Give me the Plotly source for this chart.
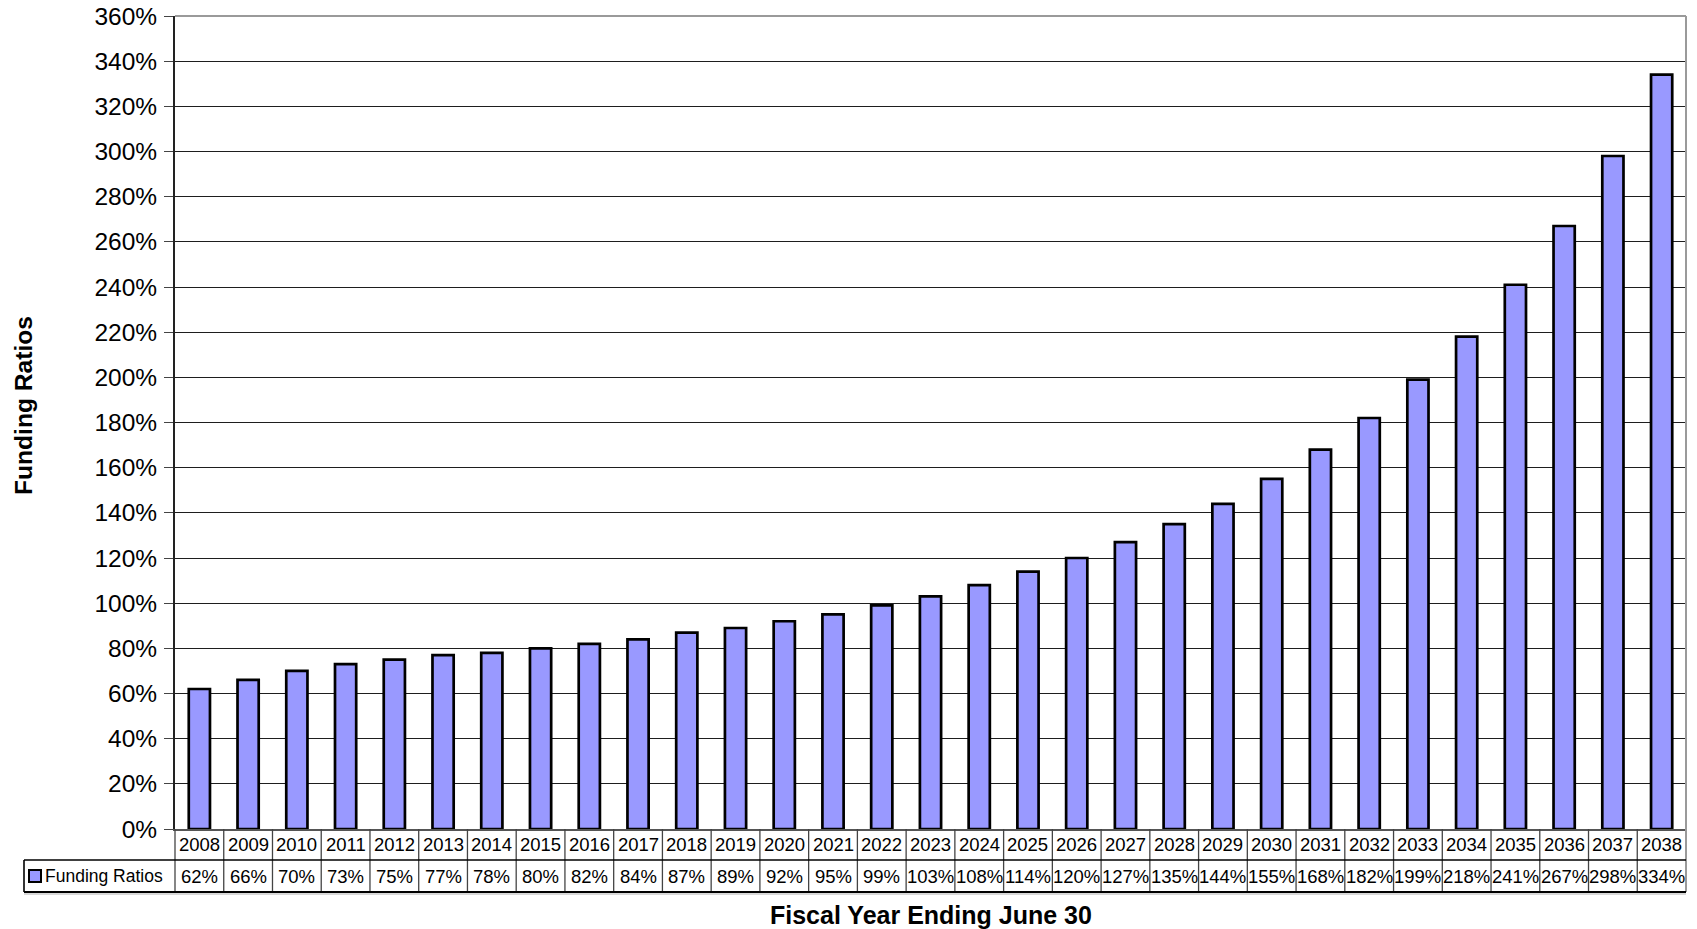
import plotly.graph_objects as go

years = [str(y) for y in range(2008, 2039)]
funding_ratios = [62, 66, 70, 73, 75, 77, 78, 80, 82, 84, 87, 89, 92, 95, 99,
                  103, 108, 114, 120, 127, 135, 144, 155, 168, 182, 199, 218,
                  241, 267, 298, 334]
y_ticks = list(range(0, 361, 20))
y_tick_labels = [f"{v}%" for v in y_ticks]
series_name = "Funding Ratios"

FONT = "Liberation Sans, Arial, sans-serif"
BAR_FILL = "#9999FF"

# plot-area geometry in pixels (used to place the data table under the axis)
W, H = 1697, 929
L, R, T, B = 175, 11, 16, 100
PW, PH = W - L - R, H - T - B
n = len(years)


def px_x(px):
    return (px - L) / PW


def px_y(py):
    return (H - B - py) / PH


fig = go.Figure()
fig.add_trace(go.Bar(
    x=years, y=funding_ratios, name=series_name,
    marker=dict(color=BAR_FILL, line=dict(color="#000000", width=2.7)),
    showlegend=False, hoverinfo="x+y",
))

shapes = []
annotations = []

row1_top, row1_bot, row2_bot = H - B, 860, 892
legend_left = 24

# column separators of the data table
for k in range(n + 1):
    xp = k / n
    y_top = row1_top if k < n else T
    shapes.append(dict(type="line", xref="paper", yref="paper",
                       x0=xp, x1=xp, y0=px_y(y_top), y1=px_y(row2_bot),
                       line=dict(color="#9a9a9a" if k == n else "#444444",
                                 width=2 if k == n else 1.3)))
# horizontal rules of the table
for py, w in [(row1_bot, 1.6), (row2_bot, 2)]:
    shapes.append(dict(type="line", xref="paper", yref="paper",
                       x0=px_x(legend_left), x1=1, y0=px_y(py), y1=px_y(py),
                       line=dict(color="#000000", width=w)))
# faint shadow under the table
shapes.append(dict(type="line", xref="paper", yref="paper",
                   x0=px_x(legend_left), x1=1, y0=px_y(row2_bot + 2), y1=px_y(row2_bot + 2),
                   line=dict(color="#d8d8d8", width=2)))
# left edge of the legend cell
shapes.append(dict(type="line", xref="paper", yref="paper",
                   x0=px_x(legend_left), x1=px_x(legend_left),
                   y0=px_y(row1_bot), y1=px_y(row2_bot),
                   line=dict(color="#000000", width=1.6)))
# top border of the plot area
shapes.append(dict(type="line", xref="paper", yref="paper",
                   x0=0, x1=1, y0=1, y1=1,
                   line=dict(color="#9a9a9a", width=2)))
# legend key
shapes.append(dict(type="rect", xref="paper", yref="paper",
                   x0=px_x(29), x1=px_x(41), y0=px_y(870), y1=px_y(882),
                   fillcolor=BAR_FILL, line=dict(color="#000000", width=2)))

row1_mid = px_y((row1_top + row1_bot) / 2)
row2_mid = px_y((row1_bot + row2_bot) / 2)
for i, (yr, v) in enumerate(zip(years, funding_ratios)):
    xc = (i + 0.5) / n  # centre of category i on the x axis
    annotations.append(dict(x=xc, xref="paper", y=row1_mid, yref="paper", text=yr,
                            showarrow=False, xanchor="center", yanchor="middle",
                            font=dict(family=FONT, size=18.5, color="#000")))
    annotations.append(dict(x=xc, xref="paper", y=row2_mid, yref="paper", text=f"{v}%",
                            showarrow=False, xanchor="center", yanchor="middle",
                            font=dict(family=FONT, size=18.5, color="#000")))

annotations.append(dict(x=px_x(43), xref="paper", y=row2_mid, yref="paper",
                        text=series_name, showarrow=False, xanchor="left",
                        yanchor="middle", font=dict(family=FONT, size=17.5, color="#000")))

# axis titles
annotations.append(dict(x=px_x(23), xref="paper", y=px_y(406), yref="paper",
                        text="<b>Funding Ratios</b>", textangle=-90, showarrow=False,
                        xanchor="center", yanchor="middle",
                        font=dict(family=FONT, size=24.6, color="#000")))
annotations.append(dict(x=px_x(931), xref="paper", y=px_y(915), yref="paper",
                        text="<b>Fiscal Year Ending June 30</b>", showarrow=False,
                        xanchor="center", yanchor="middle",
                        font=dict(family=FONT, size=25, color="#000")))

fig.update_layout(
    width=W, height=H,
    margin=dict(l=L, r=R, t=T, b=B, pad=0, autoexpand=False),
    paper_bgcolor="#ffffff", plot_bgcolor="#ffffff",
    bargap=0.565,
    font=dict(family=FONT, color="#000"),
    shapes=shapes, annotations=annotations,
    xaxis=dict(type="category", showticklabels=False, ticks="",
               showgrid=False, showline=True, linecolor="#555555", linewidth=1.5,
               zeroline=False, range=[-0.5, n - 0.5], fixedrange=True,
               automargin=False),
    yaxis=dict(range=[0, 360], tickvals=y_ticks, ticktext=y_tick_labels,
               showgrid=True, gridcolor="#1e1e1e", gridwidth=1,
               showline=True, linecolor="#222222", linewidth=2,
               ticks="outside", ticklen=9, tickwidth=1.3, tickcolor="#444444",
               ticklabelstandoff=2,
               tickfont=dict(family=FONT, size=24.5, color="#000"),
               zeroline=False, fixedrange=True, automargin=False),
)

fig.write_html("out.html")
